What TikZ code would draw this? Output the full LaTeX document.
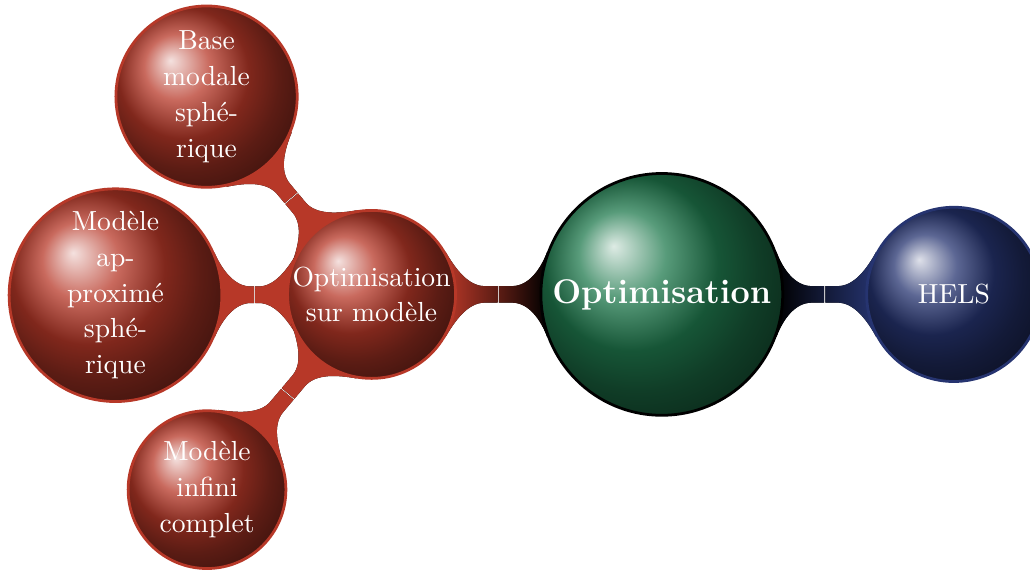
\documentclass[tikz,border=0pt]{standalone}
\usepackage{tikz}
\usetikzlibrary{backgrounds}
\definecolor{rougeb}{RGB}{183,56,40}
\definecolor{bleub}{RGB}{38,52,112}
\definecolor{vertb}{RGB}{32,122,78}

\newcommand\barre[4]{%
  \pgfpointdiff{\pgfpointanchor{#1}{center}}{\pgfpointanchor{#2}{center}}%
  \pgfgetlastxy\bDx\bDy
  \pgfpointdiff{\pgfpointanchor{#1}{center}}{\pgfpointanchor{#1}{east}}%
  \pgfgetlastxy\bRx\bRy
  \pgfmathsetmacro\brA{\bRx}%
  \pgfpointdiff{\pgfpointanchor{#2}{center}}{\pgfpointanchor{#2}{east}}%
  \pgfgetlastxy\bRx\bRy
  \pgfmathsetmacro\brB{\bRx}%
  \pgfmathsetmacro\bAng{atan2(\bDy,\bDx)}%
  \pgfmathsetmacro\bDist{veclen(\bDx,\bDy)}%
  \pgfmathsetmacro\bAlpha{asin(15.5/\brA)}%
  \pgfmathsetmacro\bBeta{asin(15.5/\brB)}%
  \pgfmathsetmacro\bMid{(\brA+\bDist-\brB)/2}%
  \pgfmathsetmacro\bEnd{\bDist-\brB}%
  \begin{scope}[shift={(#1.center)},rotate=\bAng,x=1pt,y=1pt]
    \fill[left color=#3,right color=#3!50!#4]
      ({\brA*cos(\bAlpha)},15.5) .. controls +({\bAlpha-90}:7) and (\brA+4,3) .. (\brA+10,3)
      -- (\bMid-0.2,3) -- (\bMid-0.2,-3) -- (\brA+10,-3)
      .. controls (\brA+4,-3) and +({90-\bAlpha}:7) .. ({\brA*cos(\bAlpha)},-15.5) -- cycle;
    \fill[left color=#3!50!#4,right color=#4]
      (\bMid+0.2,3) -- (\bEnd-10,3) .. controls (\bEnd-4,3) and +({270-\bBeta}:7) .. ({\bDist-\brB*cos(\bBeta)},15.5)
      -- ({\bDist-\brB*cos(\bBeta)},-15.5)
      .. controls +({90+\bBeta}:7) and (\bEnd-4,-3) .. (\bEnd-10,-3) -- (\bMid+0.2,-3) -- cycle;
  \end{scope}}

\begin{document}
\begin{tikzpicture}[x=1cm,y=1cm,
  bulle/.style={circle,inner sep=0pt,align=center,text=white,line width=1pt,
    font=\fontsize{10}{13}\selectfont},
  rouge/.style={bulle,draw=rougeb,ball color=rougeb}]
\path[use as bounding box] (0,0) rectangle (13.12,7.25);
\node[bulle,draw=black,ball color=vertb,minimum size=3.08cm,
  font=\fontsize{12.4}{15}\selectfont\bfseries] (racine) at (8.43,3.5) {Optimisation};
\node[bulle,draw=bleub,ball color=bleub,minimum size=2.22cm] (hels) at (12.15,3.5) {HELS};
\node[rouge,minimum size=2.14cm] (optim) at (4.733,3.5) {Optimisation\\sur modèle};
\node[rouge,minimum size=2.31cm] (base) at (2.631,6.019) {Base\\modale\\sphé-\\rique};
\node[rouge,minimum size=2.71cm] (approx) at (1.471,3.49) {Modèle\\ap-\\proximé\\sphé-\\rique};
\node[rouge,minimum size=2.01cm] (infini) at (2.637,1.013) {Modèle\\infini\\complet};
\begin{pgfonlayer}{background}
\barre{racine}{hels}{black}{bleub}
\barre{optim}{racine}{rougeb}{black}
\barre{optim}{base}{rougeb}{rougeb}
\barre{optim}{approx}{rougeb}{rougeb}
\barre{optim}{infini}{rougeb}{rougeb}
\end{pgfonlayer}
\end{tikzpicture}
\end{document}
